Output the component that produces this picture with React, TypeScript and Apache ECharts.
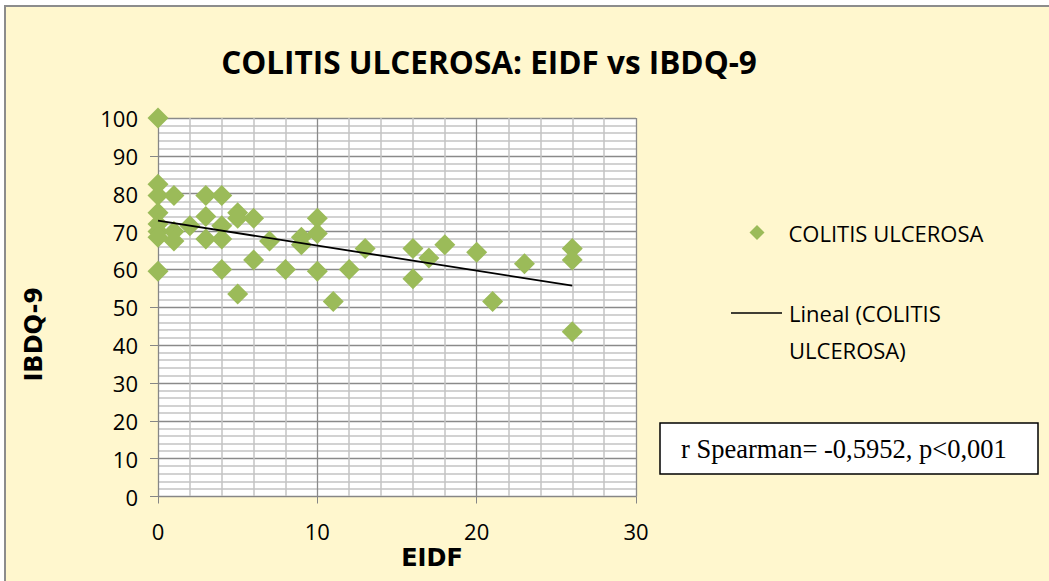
import React, { useEffect, useRef } from "react";
import * as echarts from "echarts";

const titleText = "COLITIS ULCEROSA: EIDF vs IBDQ-9";
const seriesName = "COLITIS ULCEROSA";
const trendName = "Lineal (COLITIS ULCEROSA)";
const xAxisTitle = "EIDF";
const yAxisTitle = "IBDQ-9";
const annotation = "r Spearman= -0,5952, p<0,001";

// EIDF (x) and IBDQ-9 (y) per patient
const eidf = [
  0, 0, 0, 0, 0, 0, 0, 0,
  1, 1, 1,
  2,
  3, 3, 3,
  4, 4, 4, 4,
  5, 5, 5,
  6, 6,
  7, 8, 9, 9,
  10, 10, 10,
  11, 12, 13,
  16, 16, 17, 18, 20, 21, 23,
  26, 26, 26,
];
const ibdq = [
  100, 82.5, 79.5, 75, 72, 70, 68.5, 59.5,
  79.5, 70, 67.5,
  71.5,
  79.5, 74, 68,
  79.5, 71.5, 68, 60,
  75, 73.5, 53.5,
  73.5, 62.5,
  67.5, 60, 68.5, 66.5,
  73.5, 69.5, 59.5,
  51.5, 60, 65.5,
  65.5, 57.5, 63, 66.5, 64.5, 51.5, 61.5,
  65.5, 62.5, 43.5,
];

// linear trend line end points
const trendX = [0, 26];
const trendY = [72.9, 55.7];

const GREEN = "#9BBB59";

export default function App() {
  const ref = useRef<HTMLDivElement>(null);
  useEffect(() => {
    if (!ref.current) return;
    const chart = echarts.init(ref.current, undefined, { renderer: "svg" });
    const points = eidf.map((x, i) => [x, ibdq[i]]);
    const trend = trendX.map((x, i) => [x, trendY[i]]);
    chart.setOption({
      animation: false,
      backgroundColor: "#ffffff",
      textStyle: { fontFamily: "Open Sans" },
      title: {
        text: titleText,
        left: 484,
        top: 40,
        textAlign: "center",
        textStyle: {
          fontFamily: "Open Sans",
          fontWeight: "bold",
          fontSize: 31.5,
          color: "#000",
        },
      },
      graphic: [
        {
          type: "rect",
          z: -10,
          shape: { x: 5, y: 6, width: 1100, height: 640 },
          style: { fill: "#FFF7CE", stroke: "#8C8C8C", lineWidth: 2 },
        },
        {
          type: "rect",
          z: 10,
          shape: { x: 660, y: 423, width: 378, height: 51 },
          style: { fill: "#ffffff", stroke: "#000000", lineWidth: 1.5 },
        },
        {
          type: "text",
          z: 11,
          x: 681,
          y: 449,
          style: {
            text: annotation,
            fontFamily: "Liberation Serif",
            fontSize: 26.5,
            fill: "#000",
            verticalAlign: "middle",
          },
        },
      ],
      legend: [
        {
          data: [{ name: seriesName, icon: "diamond" }],
          left: 749.5,
          top: 221.5,
          itemWidth: 15,
          itemHeight: 15,
          padding: 0,
          textStyle: {
            fontFamily: "Open Sans",
            fontSize: 22,
            color: "#000",
            padding: [0, 0, 0, 19],
          },
        },
        {
          data: [{ name: trendName, icon: "rect" }],
          left: 731,
          top: 257.5,
          itemWidth: 51,
          itemHeight: 1.5,
          padding: 0,
          formatter: () => " \nLineal (COLITIS\nULCEROSA)",
          textStyle: {
            fontFamily: "Open Sans",
            fontSize: 22,
            lineHeight: 37,
            color: "#000",
            padding: [0, 0, 0, 2],
          },
        },
      ],
      grid: {
        left: 158,
        top: 118,
        width: 478,
        height: 378.5,
        show: true,
        backgroundColor: "#ffffff",
        borderWidth: 0,
      },
      xAxis: {
        type: "value",
        min: 0,
        max: 30,
        interval: 10,
        name: xAxisTitle,
        nameLocation: "middle",
        nameGap: 47,
        nameTextStyle: {
          fontFamily: "DejaVu Sans",
          fontWeight: 900,
          fontSize: 24,
          color: "#000",
          padding: [0, 0, 0, 70],
        },
        axisLine: { show: true, onZero: false, lineStyle: { color: "#868686", width: 1 } },
        axisTick: { show: true, length: 7, lineStyle: { color: "#868686" } },
        axisLabel: { fontFamily: "Open Sans", fontSize: 22, color: "#000", margin: 23 },
        splitLine: { show: true, lineStyle: { color: "#8A8A8A", width: 1.3 } },
        minorTick: { show: false, splitNumber: 5 },
        minorSplitLine: { show: true, lineStyle: { color: "#C3C3C3", width: 1.5 } },
      },
      yAxis: {
        type: "value",
        min: 0,
        max: 100,
        interval: 10,
        name: yAxisTitle,
        nameLocation: "middle",
        nameGap: 112,
        nameRotate: 90,
        nameTextStyle: {
          fontFamily: "DejaVu Sans",
          fontWeight: 900,
          fontSize: 24,
          color: "#000",
          padding: [0, 54, 0, 0],
        },
        axisLine: { show: true, lineStyle: { color: "#868686", width: 1 } },
        axisTick: { show: true, length: 8, lineStyle: { color: "#868686" } },
        axisLabel: { fontFamily: "Open Sans", fontSize: 22, color: "#000", margin: 20 },
        splitLine: { show: true, lineStyle: { color: "#8A8A8A", width: 1.3 } },
        minorTick: { show: false, splitNumber: 5 },
        minorSplitLine: { show: true, lineStyle: { color: "#C3C3C3", width: 1.5 } },
      },
      series: [
        {
          name: seriesName,
          type: "scatter",
          symbol: "diamond",
          symbolSize: 21,
          itemStyle: { color: GREEN, opacity: 1 },
          data: points,
          z: 3,
        },
        {
          name: trendName,
          type: "line",
          symbol: "none",
          data: trend,
          lineStyle: { color: "#000", width: 1.8 },
          itemStyle: { color: "#000" },
          z: 4,
        },
      ],
    });
    return () => chart.dispose();
  }, []);
  return (
    <div
      ref={ref}
      style={{ position: "fixed", left: 0, top: 0, width: 1049, height: 581 }}
    />
  );
}
